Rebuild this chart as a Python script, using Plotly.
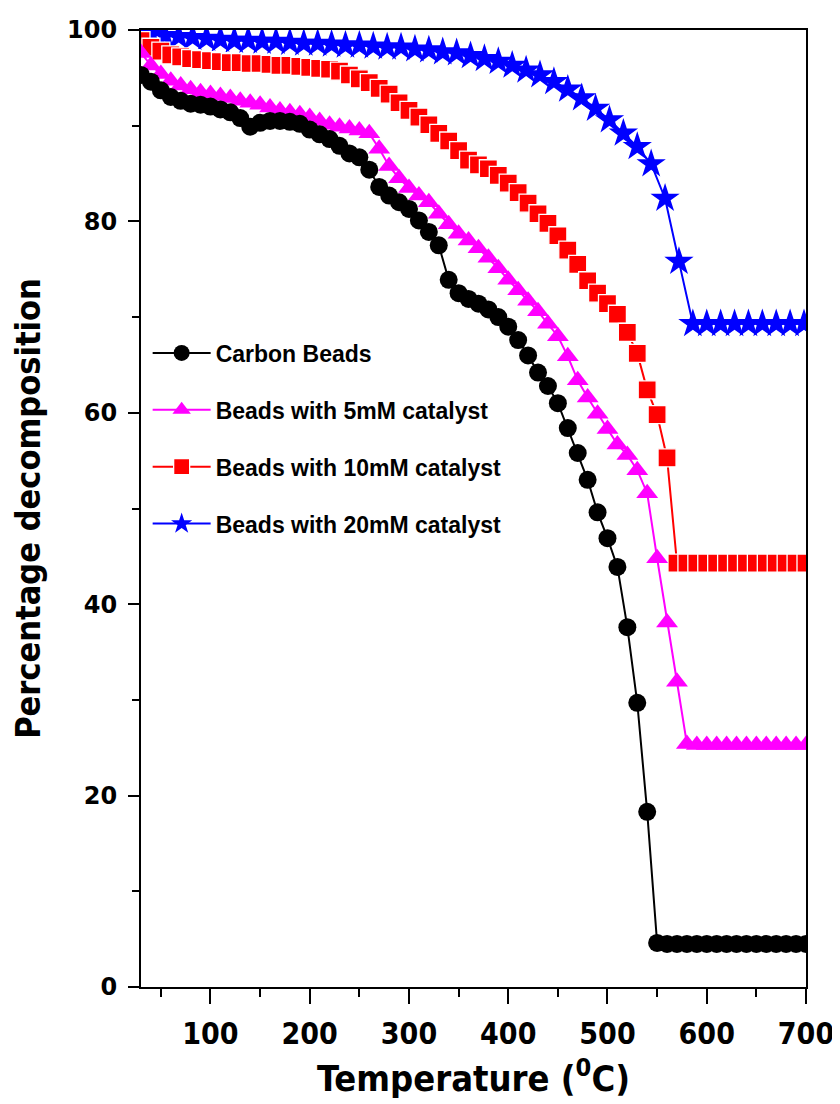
import plotly.graph_objects as go

# Temperature grid (deg C) for black / magenta / red series
temp = [30, 40, 50, 60, 70, 80, 90, 100, 110, 120, 130, 140, 150, 160, 170, 180, 190,
        200, 210, 220, 230, 240, 250, 260, 270, 280, 290, 300, 310, 320, 330, 340, 350,
        360, 370, 380, 390, 400, 410, 420, 430, 440, 450, 460, 470, 480, 490, 500, 510,
        520, 530, 540, 550, 560, 570, 580, 590, 600, 610, 620, 630, 640, 650, 660, 670,
        680, 690, 700]

carbon = [95.3, 94.6, 93.7, 93.0, 92.6, 92.3, 92.2, 92.0, 91.7, 91.4, 90.8, 89.9, 90.3,
          90.5, 90.5, 90.4, 90.2, 89.6, 89.1, 88.6, 87.9, 87.1, 86.7, 85.4, 83.6, 82.7,
          82.0, 81.3, 80.1, 78.9, 77.5, 73.9, 72.5, 71.9, 71.4, 70.8, 70.0, 69.0, 67.6,
          66.0, 64.2, 62.8, 61.0, 58.4, 55.8, 53.0, 49.6, 46.9, 43.9, 37.6, 29.7, 18.3,
          4.6, 4.5, 4.5, 4.5, 4.5, 4.5, 4.5, 4.5, 4.5, 4.5, 4.5, 4.5, 4.5, 4.5, 4.5, 4.5]

cat5 = [97.6, 96.3, 95.4, 94.7, 94.2, 93.8, 93.5, 93.3, 93.1, 92.9, 92.6, 92.4, 92.2,
        91.9, 91.6, 91.4, 91.2, 90.9, 90.5, 90.1, 89.9, 89.7, 89.5, 89.2, 87.6, 85.8,
        84.5, 83.5, 82.7, 82.0, 80.8, 79.7, 78.7, 78.0, 77.2, 76.2, 75.1, 73.9, 72.8,
        71.7, 70.6, 69.3, 68.0, 65.9, 63.4, 61.6, 59.9, 58.3, 56.7, 55.6, 54.0, 51.6,
        44.8, 38.1, 31.9, 25.4, 25.3, 25.3, 25.3, 25.3, 25.3, 25.3, 25.3, 25.3, 25.3,
        25.3, 25.3, 25.3]

cat10 = [98.9, 98.2, 97.8, 97.4, 97.2, 97.0, 96.9, 96.8, 96.7, 96.6, 96.6, 96.5, 96.5,
         96.4, 96.3, 96.3, 96.2, 96.1, 96.0, 95.9, 95.7, 95.3, 94.9, 94.5, 93.9, 93.3,
         92.4, 91.6, 90.9, 90.1, 89.2, 88.4, 87.4, 86.4, 85.9, 85.5, 84.8, 84.0, 83.0,
         81.9, 80.8, 79.8, 78.5, 77.0, 75.5, 73.8, 72.5, 71.4, 70.3, 68.4, 66.2, 62.4,
         59.8, 55.3, 44.3, 44.3, 44.3, 44.3, 44.3, 44.3, 44.3, 44.3, 44.3, 44.3, 44.3,
         44.3, 44.3, 44.3]

# Temperature grid for the 20 mM series (stars)
temp20 = [32, 40, 54, 68, 82, 96, 110, 124, 138, 152, 166, 180, 194, 208, 222, 236, 250,
          264, 278, 292, 306, 320, 334, 348, 362, 376, 390, 404, 418, 432, 446, 460, 474,
          488, 502, 516, 530, 544, 558, 572, 586, 600, 614, 628, 642, 656, 670, 684, 698]

cat20 = [99.6, 99.5, 99.4, 99.3, 99.2, 99.1, 99.0, 98.9, 98.9, 98.8, 98.8, 98.7, 98.6,
         98.6, 98.5, 98.4, 98.4, 98.3, 98.2, 98.2, 98.0, 97.9, 97.7, 97.6, 97.3, 97.0,
         96.7, 96.3, 95.8, 95.3, 94.6, 93.8, 92.9, 91.8, 90.6, 89.2, 87.8, 86.0, 82.4,
         75.8, 69.3, 69.3, 69.3, 69.3, 69.3, 69.3, 69.3, 69.3, 69.3]

x_ticks = [100, 200, 300, 400, 500, 600, 700]
y_ticks = [0, 20, 40, 60, 80, 100]

fig = go.Figure()

# draw order: blue, red, magenta, black (black on top); legend order via legendrank
fig.add_trace(go.Scatter(
    x=temp20, y=cat20, mode="lines+markers", name="Beads with 20mM catalyst",
    line=dict(color="#0000FF", width=2),
    marker=dict(symbol="star", size=22, color="#0000FF", line=dict(width=0)),
    legendrank=4, legendgroup="d"))
fig.add_trace(go.Scatter(
    x=temp, y=cat10, mode="lines+markers", name="Beads with 10mM catalyst",
    line=dict(color="#FF0000", width=2),
    marker=dict(symbol="square", size=18, color="#FF0000", line=dict(width=1.3, color="white")),
    legendrank=3, legendgroup="c"))
fig.add_trace(go.Scatter(
    x=temp, y=cat5, mode="lines+markers", name="Beads with 5mM catalyst",
    line=dict(color="#FF00FF", width=2),
    marker=dict(symbol="triangle-up", size=19, color="#FF00FF", line=dict(width=0)),
    legendrank=2, legendgroup="b"))
fig.add_trace(go.Scatter(
    x=temp, y=carbon, mode="lines+markers", name="Carbon Beads",
    line=dict(color="#000000", width=2),
    marker=dict(symbol="circle", size=18, color="#000000", line=dict(width=0)),
    legendrank=1, legendgroup="a"))

narrow = "Liberation Sans Narrow, DejaVu Sans Condensed, Liberation Sans, Arial"

# page body has an 8px margin, so the figure is sized/offset to compensate
fig.update_layout(
    width=832, height=1096,
    margin=dict(l=133, r=34, t=22, b=117, autoexpand=False),
    paper_bgcolor="white", plot_bgcolor="white",
    showlegend=True,
    legend=dict(
        x=0.010, y=0.685, xanchor="left", yanchor="top",
        bgcolor="rgba(0,0,0,0)", borderwidth=0,
        font=dict(family="Liberation Sans, Arial", size=23, color="black", weight="bold"),
        tracegroupgap=24, itemwidth=58,
    ),
    xaxis=dict(
        range=[30, 700], tickmode="array", tickvals=x_ticks,
        ticktext=[str(v) for v in x_ticks], automargin=False,
        ticks="outside", ticklen=15, tickwidth=2, tickcolor="black",
        ticklabelstandoff=4, ticklabeloverflow="allow",
        minor=dict(dtick=50, tick0=0, ticks="outside", ticklen=8, tickwidth=2, tickcolor="black"),
        showline=True, linecolor="black", linewidth=2, mirror=True,
        showgrid=False, zeroline=False,
        tickfont=dict(family=narrow, size=30, color="black", weight="bold"),
        title=dict(text="Temperature (<sup>0</sup>C)", standoff=16,
                   font=dict(family=narrow, size=36, color="black", weight="bold")),
    ),
    yaxis=dict(
        range=[0, 100], tickmode="array", tickvals=y_ticks,
        ticktext=[str(v) for v in y_ticks], automargin=False,
        ticks="outside", ticklen=11, tickwidth=2, tickcolor="black",
        ticklabelstandoff=6,
        minor=dict(dtick=10, tick0=0, ticks="outside", ticklen=7, tickwidth=2, tickcolor="black"),
        showline=True, linecolor="black", linewidth=2, mirror=True,
        showgrid=False, zeroline=False,
        tickfont=dict(family="DejaVu Sans", size=24, color="black", weight="bold"),
        title=dict(text="Percentage decomposition", standoff=18,
                   font=dict(family=narrow, size=34, color="black", weight="bold")),
    ),
)

fig.write_html("out.html")
